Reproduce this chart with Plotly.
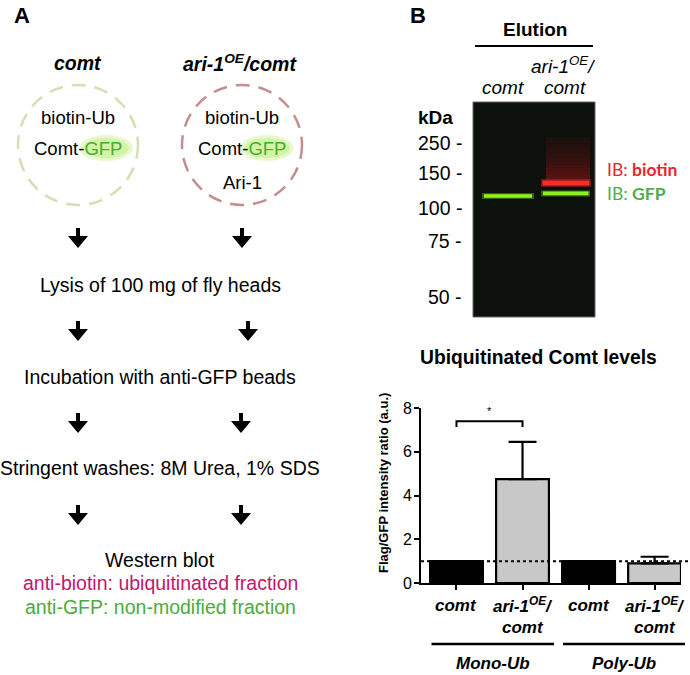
import plotly.graph_objects as go

W, H = 690, 675

# ---- data ----
bar_labels = ["comt", "ari-1OE/comt", "comt", "ari-1OE/comt"]
bar_values = [1.0, 4.75, 1.0, 0.9]
bar_err_up = [0.0, 1.7, 0.0, 0.3]
bar_colors = ["black", "#c8c8c8", "black", "#c8c8c8"]
group_labels = ["Mono-Ub", "Poly-Ub"]
y_ticks = [0, 2, 4, 6, 8]
mw_labels = ["250", "150", "100", "75", "50"]
mw_pos = [143, 173, 208, 241, 297]
flow_steps = ["Lysis of 100 mg of fly heads",
              "Incubation with anti-GFP beads",
              "Stringent washes: 8M Urea, 1% SDS"]

FONT = "Liberation Sans, Arial, sans-serif"


def px(x):
    return x / W


def py(y):
    return 1 - y / H


shapes = []
annos = []


def text(x, y, s, size=16, color="black", anchor="center", font=FONT, angle=0):
    annos.append(dict(x=px(x), y=py(y), xref="paper", yref="paper", text=s,
                      showarrow=False, xanchor=anchor, yanchor="middle",
                      textangle=angle,
                      font=dict(family=font, size=size, color=color)))


def line(x0, y0, x1, y1, w=2, color="black", dash=None):
    shapes.append(dict(type="line", xref="paper", yref="paper",
                       x0=px(x0), y0=py(y0), x1=px(x1), y1=py(y1),
                       line=dict(color=color, width=w, dash=dash)))


def rect(x0, y0, x1, y1, fill, lw=0, lc=None, layer="above"):
    shapes.append(dict(type="rect", xref="paper", yref="paper",
                       x0=px(x0), y0=py(y0), x1=px(x1), y1=py(y1),
                       fillcolor=fill, layer=layer,
                       line=dict(width=lw, color=lc or fill)))


def ellipse(x0, y0, x1, y1, fill):
    shapes.append(dict(type="circle", xref="paper", yref="paper",
                       x0=px(x0), y0=py(y0), x1=px(x1), y1=py(y1),
                       fillcolor=fill, line=dict(width=0), layer="below"))


def arrow(cx, top):
    p = (f"M {px(cx-2)},{py(top)} L {px(cx+2)},{py(top)} L {px(cx+2)},{py(top+8)} "
         f"L {px(cx+10)},{py(top+8)} L {px(cx)},{py(top+20)} L {px(cx-10)},{py(top+8)} "
         f"L {px(cx-2)},{py(top+8)} Z")
    shapes.append(dict(type="path", xref="paper", yref="paper", path=p,
                       fillcolor="black", line=dict(width=0)))


# ================= Panel A =================
text(22, 16, "<b>A</b>", size=22)
text(78, 63, "<b><i>comt</i></b>", size=19.5)
text(240, 63, "<b><i>ari-1<sup>OE</sup>/comt</i></b>", size=19.5)

for cx, col in [(78, "#d6dfb2"), (242, "#c48e8e")]:
    shapes.append(dict(type="circle", xref="paper", yref="paper",
                       x0=px(cx - 60), x1=px(cx + 60), y0=py(205), y1=py(85),
                       line=dict(color=col, width=2.5, dash="14px,9px")))

GREEN_T = "#45ae38"
for cx, gx in [(78, 106), (242, 267)]:
    ellipse(gx - 27, 135, gx + 27, 161, "rgba(205,240,150,0.45)")
    ellipse(gx - 23, 138, gx + 23, 158, "rgba(195,240,130,0.55)")
    text(cx, 118, "biotin-Ub", size=18.5)
    text(cx, 148, f"Comt-<span style='color:{GREEN_T}'>GFP</span>", size=18.5)
text(242, 183, "Ari-1", size=18.5)

arrow(78, 228); arrow(242, 228)
text(160, 285, flow_steps[0], size=19.5)
arrow(78, 321); arrow(248, 321)
text(160, 377, flow_steps[1], size=19.5)
arrow(78, 413); arrow(241, 413)
text(160, 468, flow_steps[2], size=19.5)
arrow(78, 505); arrow(241, 505)
text(160, 560, "Western blot", size=19.5)
text(160, 583, "anti-biotin: ubiquitinated fraction", size=19.5, color="#c2176b")
text(160, 607, "anti-GFP: non-modified fraction", size=19.5, color="#4aac3c")

# ================= Panel B (blot) =================
text(418, 16, "<b>B</b>", size=22)
text(535, 30, "<b>Elution</b>", size=19)
line(475, 46, 593, 46, w=2)
text(503, 88, "<i>comt</i>", size=19)
text(563, 65, "<i>ari-1<sup>OE</sup>/</i>", size=19)
text(565, 88, "<i>comt</i>", size=19)
text(435, 117, "<b>kDa</b>", size=19)
for lab, yy in zip(mw_labels, mw_pos):
    text(464, yy, f"{lab} -", size=19.5, anchor="right")

rect(473, 102, 595, 317, "#0c110c", lw=1, lc="#666666")
# red smear
n = 14
for i in range(n):
    y0 = 137 + i * (43 / n)
    y1 = 137 + (i + 1) * (43 / n)
    a = 0.10 + 0.35 * (i / (n - 1)) ** 1.5
    rect(546, y0, 590, y1, f"rgba(190,20,25,{a:.3f})")
# red band
rect(541, 179, 591, 187, "rgba(255,40,40,0.35)")
rect(542.5, 180.5, 589.5, 185.5, "#ff2b2b")
# green bands
rect(482, 193, 534, 199, "rgba(140,240,40,0.35)")
rect(484, 194.2, 532, 197.8, "#8ef21c")
rect(541, 190.5, 590, 196.5, "rgba(140,240,40,0.35)")
rect(543, 191.5, 588.5, 195.2, "#8ef21c")

IBF = "Lato, Open Sans, sans-serif"
text(605, 170, "IB: <b>biotin</b>", size=17.5, color="#e8262d", anchor="left", font=IBF)
text(605, 193, "IB: <b>GFP</b>", size=17.5, color="#4fae45", anchor="left", font=IBF)

# ================= Bar chart =================
text(538, 357, "<b>Ubiquitinated Comt levels</b>", size=19.3)
text(384, 483, "<b>Flag/GFP intensity ratio (a.u.)</b>", size=13, angle=-90)

xpos = list(range(len(bar_values)))
fig = go.Figure()
fig.add_trace(go.Bar(
    x=xpos, y=bar_values, width=0.8,
    marker=dict(color=bar_colors, line=dict(color="black", width=2.2)),
    error_y=dict(type="data", symmetric=False, array=bar_err_up,
                 arrayminus=[0] * len(bar_values), color="black",
                 thickness=2.2, width=14),
    showlegend=False, hoverinfo="skip"))

# y tick labels
for t in y_ticks:
    annos.append(dict(x=px(414), y=t, xref="paper", yref="y", text=str(t),
                      showarrow=False, xanchor="right", yanchor="middle",
                      font=dict(family=FONT, size=16, color="black")))

# dotted reference line at 1.0
shapes.append(dict(type="line", xref="paper", yref="y", x0=px(421), x1=px(688),
                   y0=1, y1=1, line=dict(color="black", width=2, dash="dot")))
# significance bracket
shapes.append(dict(type="path", xref="x", yref="y",
                   path="M 0,7.13 L 0,7.4 L 1,7.4 L 1,7.13",
                   line=dict(color="black", width=2)))
annos.append(dict(x=0.5, y=7.85, xref="x", yref="y", text="*", showarrow=False,
                  font=dict(family=FONT, size=11, color="black")))

# x labels
for i, lab in enumerate(bar_labels):
    if "/" in lab:
        a, b = lab.split("/")
        annos.append(dict(x=i, y=py(605), xref="x", yref="paper",
                          text="<b><i>ari-1<sup>OE</sup>/</i></b>", showarrow=False,
                          yanchor="middle", font=dict(family=FONT, size=17, color="black")))
        annos.append(dict(x=i, y=py(627), xref="x", yref="paper",
                          text=f"<b><i>{b}</i></b>", showarrow=False,
                          yanchor="middle", font=dict(family=FONT, size=17, color="black")))
    else:
        annos.append(dict(x=i, y=py(605), xref="x", yref="paper",
                          text=f"<b><i>{lab}</i></b>", showarrow=False,
                          yanchor="middle", font=dict(family=FONT, size=17, color="black")))

line(431.5, 644, 554, 644, w=2.5)
line(563, 644, 685, 644, w=2.5)
text(493, 663, f"<b><i>{group_labels[0]}</i></b>", size=17)
text(624, 663, f"<b><i>{group_labels[1]}</i></b>", size=17)

fig.update_layout(
    width=W, height=H, margin=dict(l=0, r=0, t=0, b=0, pad=0, autoexpand=False),
    paper_bgcolor="white", plot_bgcolor="white",
    xaxis=dict(domain=[px(420.5), px(681)], range=[-0.545, 3.4],
               showgrid=False, zeroline=False, showline=True, linecolor="black",
               linewidth=2, ticks="outside", ticklen=5, tickwidth=2,
               tickcolor="black", tickvals=xpos, showticklabels=False,
               fixedrange=True, automargin=False),
    yaxis=dict(domain=[py(583), py(408)], range=[0, 8], tickvals=y_ticks,
               showgrid=False, zeroline=False, showline=True, linecolor="black",
               linewidth=2, ticks="outside", ticklen=5, tickwidth=2,
               tickcolor="black", showticklabels=False,
               fixedrange=True, automargin=False),
    shapes=shapes, annotations=annos, bargap=0.2,
)

fig.write_html("out.html", config={"displayModeBar": False},
               post_script="document.body.style.margin='0';document.body.style.overflow='hidden';")
